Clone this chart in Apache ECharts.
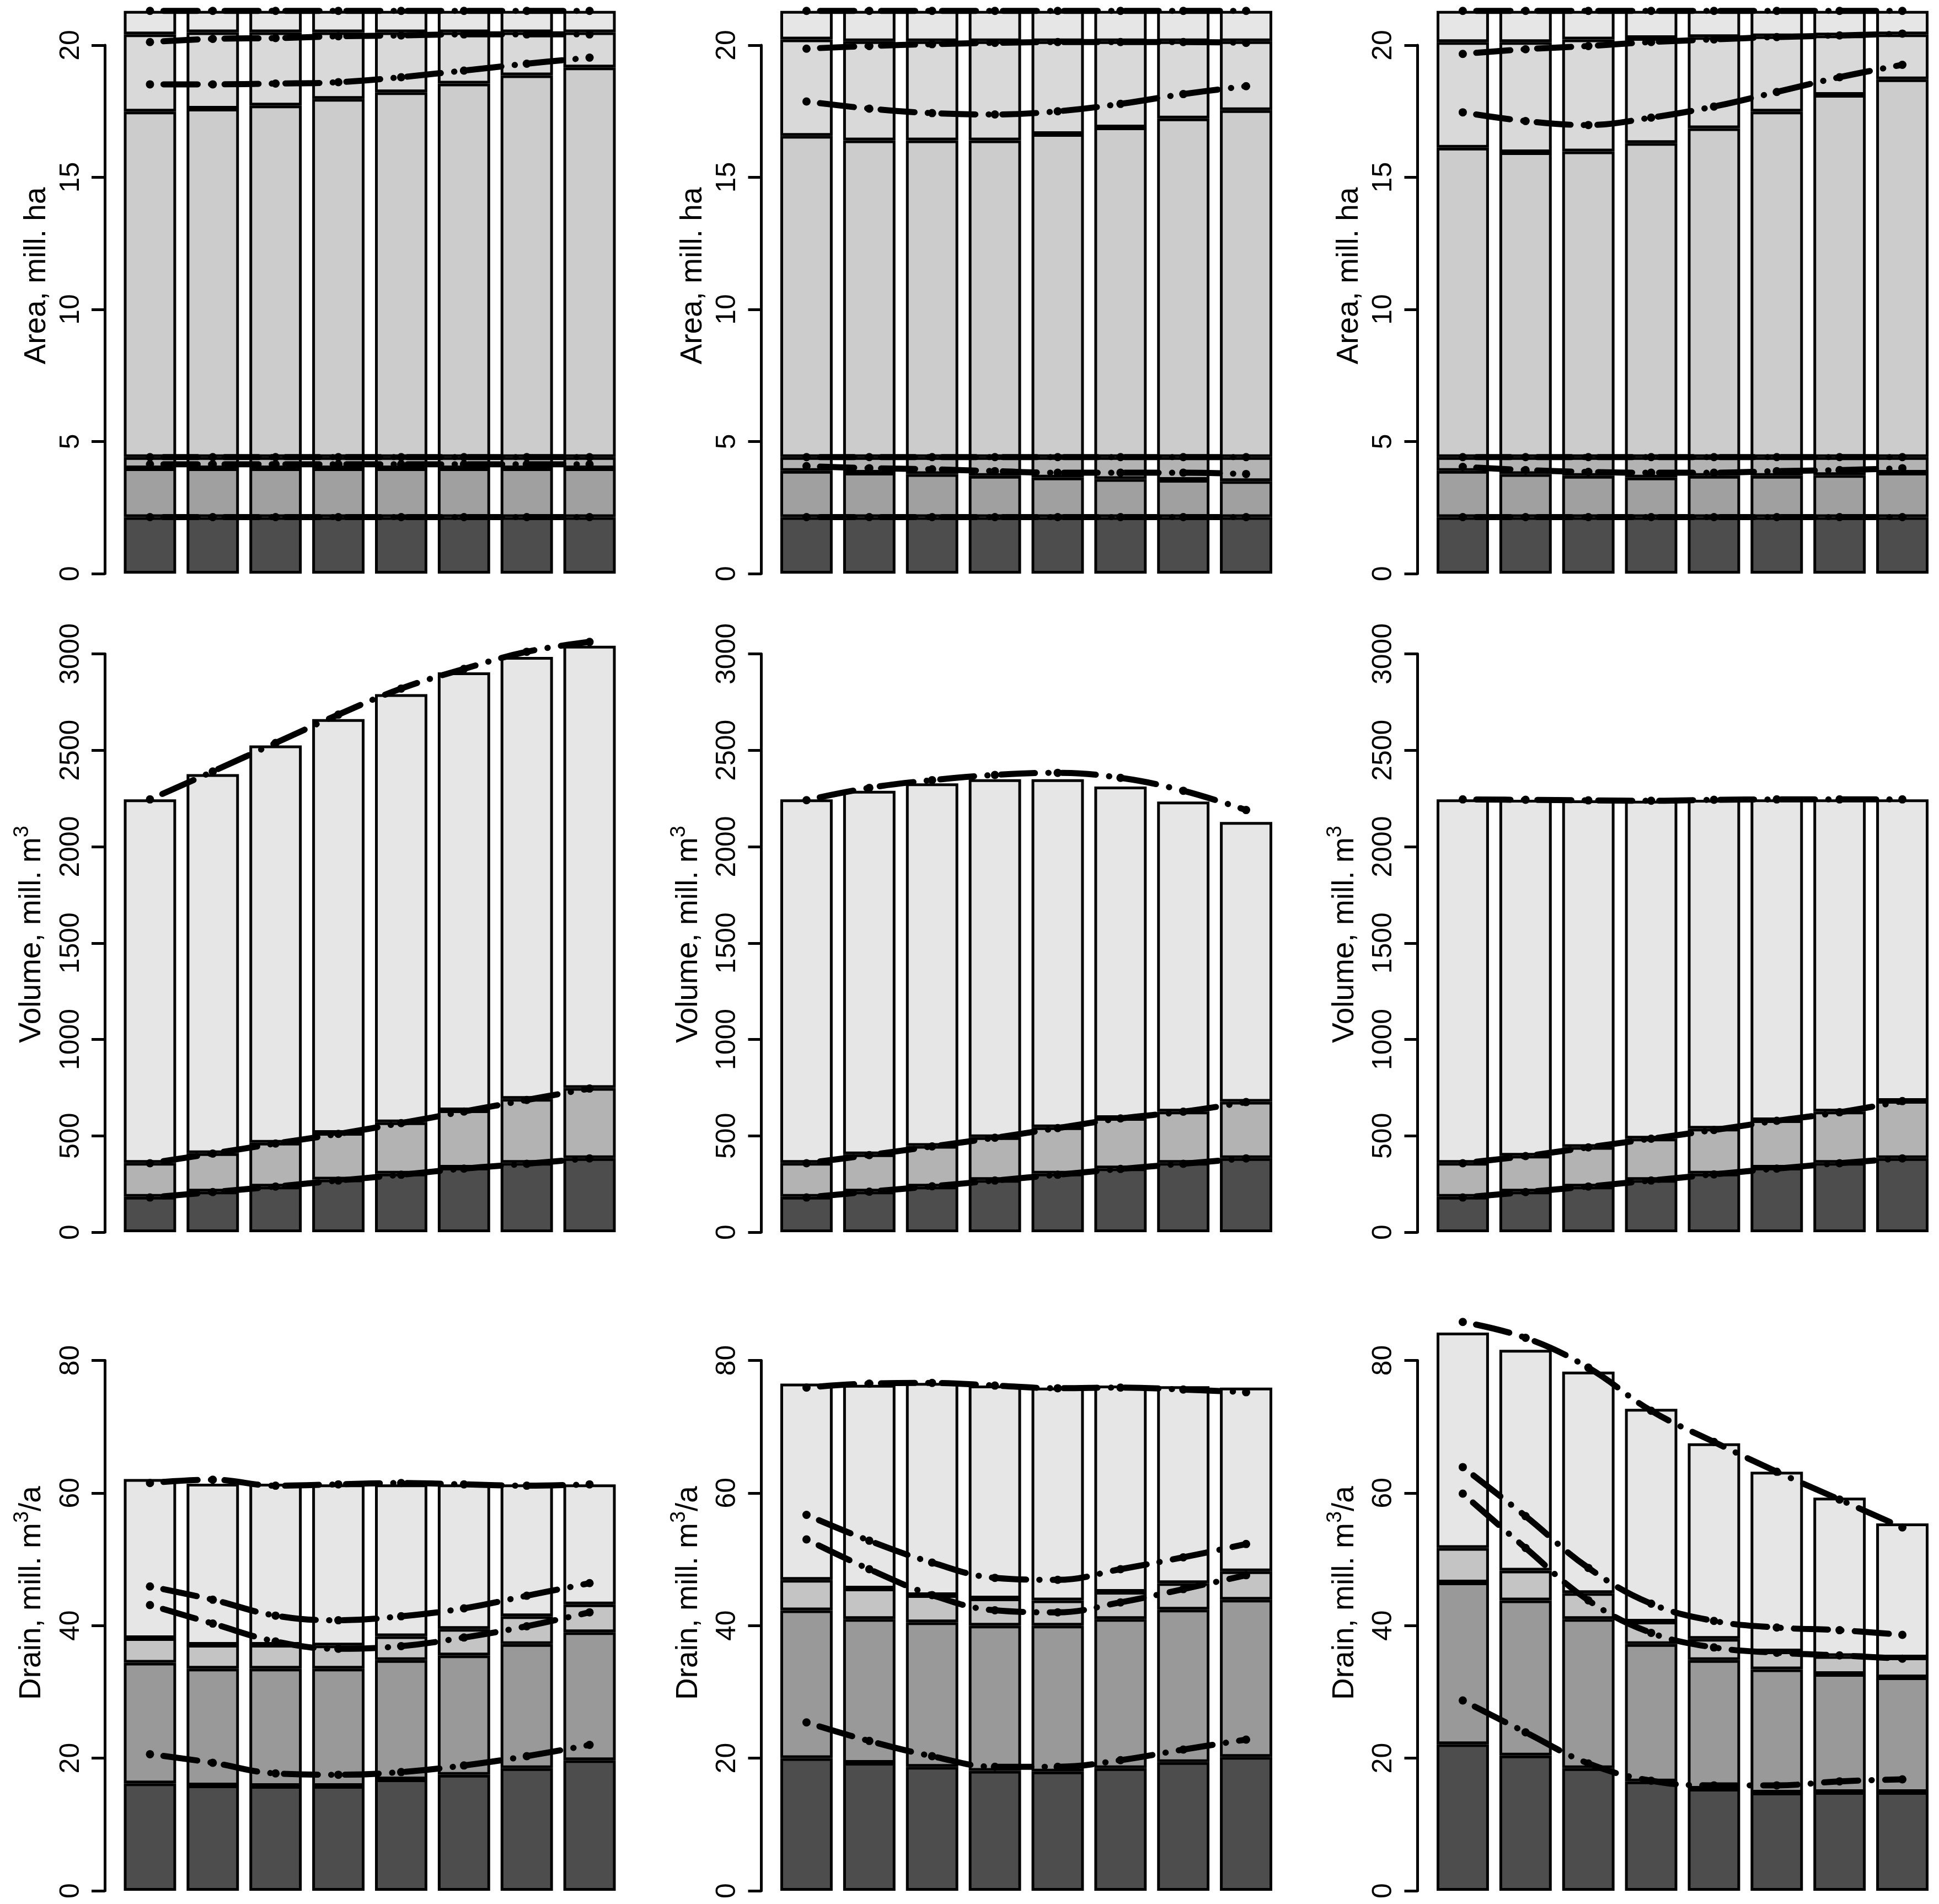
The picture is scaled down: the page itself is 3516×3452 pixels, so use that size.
<!doctype html>
<html lang="en">
<head>
    <meta charset="UTF-8">
    <title>Area, volume and drain</title>
    <style>
        html, body { margin: 0; padding: 0; background: #fff; }
        #chart { width: 3516px; height: 3452px; }
    </style>
</head>
<body>
<div id="chart"></div>
<script src="https://cdn.jsdelivr.net/npm/echarts@6/dist/echarts.min.js"></script>
<script>
    // eight periods, no labels on the x axis
    var periods = ['1', '2', '3', '4', '5', '6', '7', '8'];

    // stacked layers, given as the cumulative top of each layer (bottom -> top)
    var area1Tops = [
        [2.14, 2.14, 2.14, 2.14, 2.14, 2.14, 2.14, 2.14],
        [3.99, 3.99, 3.99, 3.99, 3.99, 3.99, 3.99, 3.99],
        [4.41, 4.41, 4.41, 4.41, 4.41, 4.41, 4.41, 4.41],
        [17.49, 17.6, 17.72, 17.97, 18.22, 18.55, 18.86, 19.16],
        [20.41, 20.49, 20.49, 20.49, 20.49, 20.49, 20.49, 20.49],
        [21.3, 21.3, 21.3, 21.3, 21.3, 21.3, 21.3, 21.3]
    ];
    var area1Lines = [
        [21.3, 21.3, 21.3, 21.3, 21.3, 21.3, 21.3, 21.3],
        [20.12, 20.24, 20.27, 20.34, 20.37, 20.41, 20.41, 20.41],
        [18.52, 18.52, 18.55, 18.6, 18.79, 19.04, 19.3, 19.53],
        [4.41, 4.41, 4.41, 4.41, 4.41, 4.41, 4.41, 4.41],
        [4.14, 4.14, 4.14, 4.14, 4.14, 4.14, 4.14, 4.14],
        [2.14, 2.14, 2.14, 2.14, 2.14, 2.14, 2.14, 2.14]
    ];
    var area2Tops = [
        [2.14, 2.14, 2.14, 2.14, 2.14, 2.14, 2.14, 2.14],
        [3.89, 3.82, 3.77, 3.7, 3.64, 3.58, 3.55, 3.5],
        [4.41, 4.41, 4.41, 4.41, 4.41, 4.41, 4.41, 4.41],
        [16.57, 16.4, 16.4, 16.4, 16.64, 16.89, 17.23, 17.54],
        [20.22, 20.15, 20.15, 20.15, 20.15, 20.15, 20.15, 20.15],
        [21.3, 21.3, 21.3, 21.3, 21.3, 21.3, 21.3, 21.3]
    ];
    var area2Lines = [
        [21.3, 21.3, 21.3, 21.3, 21.3, 21.3, 21.3, 21.3],
        [19.87, 19.97, 20.04, 20.09, 20.12, 20.12, 20.12, 20.09],
        [17.87, 17.6, 17.43, 17.38, 17.5, 17.78, 18.15, 18.45],
        [4.41, 4.41, 4.41, 4.41, 4.41, 4.41, 4.41, 4.41],
        [4.07, 3.99, 3.95, 3.88, 3.82, 3.82, 3.82, 3.77],
        [2.14, 2.14, 2.14, 2.14, 2.14, 2.14, 2.14, 2.14]
    ];
    var area3Tops = [
        [2.14, 2.14, 2.14, 2.14, 2.14, 2.14, 2.14, 2.14],
        [3.89, 3.77, 3.7, 3.64, 3.7, 3.7, 3.73, 3.82],
        [4.41, 4.41, 4.41, 4.41, 4.41, 4.41, 4.41, 4.41],
        [16.12, 15.95, 15.98, 16.3, 16.86, 17.49, 18.12, 18.71],
        [20.12, 20.12, 20.22, 20.27, 20.31, 20.34, 20.37, 20.41],
        [21.3, 21.3, 21.3, 21.3, 21.3, 21.3, 21.3, 21.3]
    ];
    var area3Lines = [
        [21.3, 21.3, 21.3, 21.3, 21.3, 21.3, 21.3, 21.3],
        [19.67, 19.85, 19.97, 20.12, 20.22, 20.31, 20.37, 20.44],
        [17.46, 17.13, 16.98, 17.26, 17.68, 18.23, 18.79, 19.26],
        [4.41, 4.41, 4.41, 4.41, 4.41, 4.41, 4.41, 4.41],
        [4.04, 3.92, 3.85, 3.82, 3.82, 3.88, 3.92, 3.99],
        [2.14, 2.14, 2.14, 2.14, 2.14, 2.14, 2.14, 2.14]
    ];

    var volume1Tops = [
        [184, 211, 237, 273, 304, 335, 360, 384],
        [360, 410, 464, 515, 570, 632, 692, 748],
        [2245, 2376, 2525, 2662, 2791, 2904, 2984, 3042]
    ];
    var volume1Lines = [
        [2245, 2390, 2538, 2685, 2820, 2922, 3011, 3062],
        [358, 408, 460, 510, 566, 626, 686, 745],
        [180, 208, 237, 268, 298, 330, 355, 383]
    ];
    var volume2Tops = [
        [184, 211, 237, 271, 304, 331, 360, 384],
        [360, 404, 448, 493, 544, 592, 626, 677],
        [2245, 2290, 2328, 2350, 2350, 2312, 2234, 2128]
    ];
    var volume2Lines = [
        [2241, 2305, 2345, 2372, 2383, 2357, 2290, 2190],
        [358, 400, 445, 490, 540, 590, 625, 675],
        [180, 210, 238, 268, 298, 328, 355, 383]
    ];
    var volume3Tops = [
        [184, 211, 237, 271, 304, 335, 360, 384],
        [360, 397, 442, 486, 537, 581, 626, 681],
        [2245, 2243, 2240, 2238, 2243, 2245, 2245, 2245]
    ];
    var volume3Lines = [
        [2245, 2243, 2240, 2238, 2243, 2245, 2245, 2245],
        [358, 395, 440, 485, 530, 578, 622, 680],
        [180, 208, 237, 268, 300, 330, 358, 383]
    ];

    var drain1Tops = [
        [16.2, 15.9, 15.8, 15.8, 16.8, 17.5, 18.5, 19.7],
        [34.4, 33.5, 33.5, 33.5, 34.8, 35.5, 37.2, 39.0],
        [38.1, 37.1, 37.1, 37.0, 38.4, 39.5, 41.4, 43.2],
        [62.1, 61.4, 61.4, 61.3, 61.3, 61.3, 61.3, 61.3]
    ];
    var drain1Lines = [
        [61.5, 62.0, 61.1, 61.3, 61.5, 61.3, 61.1, 61.3],
        [45.9, 43.9, 41.5, 40.8, 41.4, 42.6, 44.5, 46.4],
        [43.1, 40.3, 37.6, 36.5, 36.9, 38.2, 39.9, 42.0],
        [20.6, 19.3, 17.7, 17.5, 17.9, 18.9, 20.3, 22.0]
    ];
    var drain2Tops = [
        [20.0, 19.3, 18.7, 18.1, 18.0, 18.5, 19.4, 20.2],
        [42.3, 41.0, 40.5, 40.0, 40.0, 41.0, 42.4, 43.9],
        [46.9, 45.6, 44.6, 44.1, 43.8, 45.1, 46.4, 48.2],
        [76.5, 76.3, 76.6, 76.2, 75.9, 76.2, 76.1, 75.9]
    ];
    var drain2Lines = [
        [75.9, 76.5, 76.6, 76.2, 75.8, 75.9, 75.6, 75.2],
        [56.7, 52.8, 49.5, 47.2, 46.9, 48.5, 50.3, 52.3],
        [53.0, 48.5, 44.6, 42.3, 42.0, 43.5, 45.5, 47.6],
        [25.4, 22.6, 20.3, 18.7, 18.7, 19.7, 21.3, 22.8]
    ];
    var drain3Tops = [
        [22.1, 20.4, 18.5, 16.5, 15.4, 14.8, 14.9, 14.9],
        [46.5, 43.8, 41.0, 37.2, 34.8, 33.4, 32.7, 32.2],
        [51.7, 48.3, 44.9, 40.6, 38.0, 36.1, 35.4, 35.2],
        [84.2, 81.6, 78.3, 72.7, 67.5, 63.2, 59.3, 55.4]
    ];
    var drain3Lines = [
        [85.8, 83.4, 78.9, 72.4, 67.7, 63.2, 59.0, 54.8],
        [63.9, 56.5, 48.7, 43.3, 40.7, 39.7, 39.3, 38.6],
        [59.9, 51.7, 43.8, 38.9, 36.7, 35.9, 35.5, 35.0],
        [28.7, 23.9, 19.2, 16.6, 15.9, 15.9, 16.5, 16.8]
    ];

    var rowNames = ['Area, mill. ha', 'Volume, mill. m{sup|3}', 'Drain, mill. m{sup|3}/a'];
    var rowTickMax = [20, 3000, 80];
    var rowTickStep = [5, 500, 20];

    var areaColors = ['#4d4d4d', '#a0a0a0', '#b3b3b3', '#cccccc', '#d9d9d9', '#e6e6e6'];
    var volumeColors = ['#4d4d4d', '#b3b3b3', '#e6e6e6'];
    var drainColors = ['#4d4d4d', '#999999', '#c4c4c4', '#e6e6e6'];

    // page layout (pixels)
    var rowZero = [1040, 2234, 3428];
    var rowPpu = [47.9, 0.3495, 12.02];
    var colBarLeft = [224.5, 1415, 2605];
    var barSpan = 892;
    var plotH = 1080;
    var font = 'Liberation Sans, Arial, Helvetica, sans-serif';

    var panels = [
        {row: 0, col: 0, tops: area1Tops, lines: area1Lines, colors: areaColors},
        {row: 0, col: 1, tops: area2Tops, lines: area2Lines, colors: areaColors},
        {row: 0, col: 2, tops: area3Tops, lines: area3Lines, colors: areaColors},
        {row: 1, col: 0, tops: volume1Tops, lines: volume1Lines, colors: volumeColors},
        {row: 1, col: 1, tops: volume2Tops, lines: volume2Lines, colors: volumeColors},
        {row: 1, col: 2, tops: volume3Tops, lines: volume3Lines, colors: volumeColors},
        {row: 2, col: 0, tops: drain1Tops, lines: drain1Lines, colors: drainColors},
        {row: 2, col: 1, tops: drain2Tops, lines: drain2Lines, colors: drainColors},
        {row: 2, col: 2, tops: drain3Tops, lines: drain3Lines, colors: drainColors}
    ];

    var grids = [], xAxes = [], yAxes = [], series = [];

    panels.forEach(function (p, k) {
        var barW = barSpan / 9.4;
        var left = colBarLeft[p.col] - barW * 0.1;
        var width = barW * 9.6;
        var zero = rowZero[p.row];
        var ppu = rowPpu[p.row];
        var axisH = rowTickMax[p.row] * ppu;
        var gi = grids.length;

        // grid holding the bars and lines
        grids.push({left: left, width: width, top: zero - plotH, height: plotH, outerBoundsMode: 'none'});
        // grid that only carries the visible y axis (0 .. last tick, R style)
        grids.push({left: left, width: width, top: zero - axisH, height: axisH, outerBoundsMode: 'none'});

        xAxes.push({gridIndex: gi, type: 'category', data: periods, show: false});
        xAxes.push({gridIndex: gi + 1, type: 'category', data: periods, show: false});

        yAxes.push({
            gridIndex: gi, type: 'value', min: 0, max: plotH / ppu, offset: 25,
            axisLine: {show: false}, axisTick: {show: false}, axisLabel: {show: false}, splitLine: {show: false},
            name: rowNames[p.row], nameLocation: 'middle', nameRotate: 90, nameGap: 96,
            nameTextStyle: {
                fontSize: 55, color: '#000', fontFamily: font,
                rich: {sup: {fontSize: 38, color: '#000', fontFamily: font, padding: [0, 0, 34, 0]}}
            }
        });
        yAxes.push({
            gridIndex: gi + 1, type: 'value', min: 0, max: rowTickMax[p.row], interval: rowTickStep[p.row], offset: 25,
            axisLine: {show: true, lineStyle: {color: '#000', width: 5}},
            axisTick: {show: true, length: 24, lineStyle: {color: '#000', width: 5}},
            axisLabel: {
                rotate: 90, fontSize: 50, color: '#000', fontFamily: font, margin: 36,
                showMinLabel: true, showMaxLabel: true,
                formatter: function (v) { return String(v); }
            },
            splitLine: {show: false}
        });

        p.tops.forEach(function (tops, j) {
            var below = j > 0 ? p.tops[j - 1] : null;
            series.push({
                type: 'bar', xAxisIndex: gi, yAxisIndex: gi, stack: 'panel' + k,
                barCategoryGap: '16.667%', silent: true,
                data: tops.map(function (v, i) {
                    return below ? +(v - below[i]).toFixed(3) : v;
                }),
                itemStyle: {color: p.colors[j], borderColor: '#000', borderWidth: 5}
            });
        });

        p.lines.forEach(function (vals) {
            series.push({
                type: 'line', xAxisIndex: gi, yAxisIndex: gi, data: vals,
                smooth: 0.4, symbol: 'circle', symbolSize: 15, showAllSymbol: true,
                clip: false, silent: true, z: 5,
                itemStyle: {color: '#000'},
                lineStyle: {color: '#000', width: 11, type: [0.5, 24, 62, 24], cap: 'round'}
            });
        });
    });

    var myChart = echarts.init(document.getElementById('chart'));
    myChart.setOption({
        animation: false,
        backgroundColor: '#fff',
        grid: grids,
        xAxis: xAxes,
        yAxis: yAxes,
        series: series
    });
</script>
</body>
</html>
